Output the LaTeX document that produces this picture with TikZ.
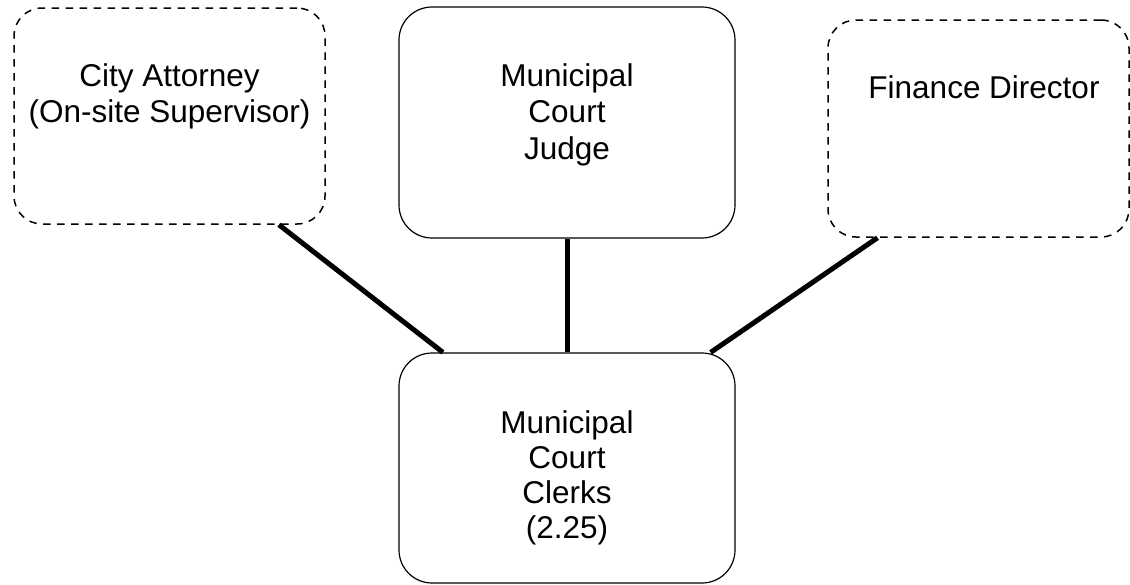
\documentclass[tikz,border=0pt]{standalone}
\usepackage{fontspec}
\setmainfont{Liberation Sans}
\usetikzlibrary{calc}
\begin{document}
\begin{tikzpicture}[x=1pt,y=-1pt,
  box/.style={draw=black,line width=1.2pt,rectangle,rounded corners=33pt,inner sep=0pt},
  dashbox/.style={box,line width=1.5pt,rounded corners=28pt,dash pattern=on 7.5pt off 6.5pt},
  txt/.style={anchor=north,inner sep=0pt,align=center,font=\fontsize{31.5}{36.5}\selectfont},
  conn/.style={line width=5pt,line cap=butt}]
\useasboundingbox (0,0) rectangle (1130,584);

% boxes
\node[dashbox,minimum width=311pt,minimum height=216pt] (att) at (169.5,116) {};
\node[box,minimum width=336pt,minimum height=231pt] (jdg) at (567,122.5) {};
\node[dashbox,minimum width=301pt,minimum height=217pt] (fin) at (978.5,128.5) {};
\node[box,minimum width=336pt,minimum height=230pt] (clk) at (567,468) {};

% box texts
\node[txt] (attT) at (169.5,63) {City Attorney\\(On-site Supervisor)};
\node[txt] (jdgT) at (567,63) {Municipal\\Court\\Judge};
\node[txt] (finT) at (984,75) {Finance Director};
\node[txt,font=\fontsize{31.5}{35}\selectfont] (clkT) at (567,410) {Municipal\\Court\\Clerks\\(2.25)};

% reporting lines
\draw[conn] ($(att.south west)!0.85!(att.south east)$) -- ($(clk.north west)!0.132!(clk.north east)$);
\draw[conn] (jdg.south) -- (clk.north);
\draw[conn] ($(fin.south west)!0.166!(fin.south east)$) -- ($(clk.north west)!0.926!(clk.north east)$);
\end{tikzpicture}
\end{document}
